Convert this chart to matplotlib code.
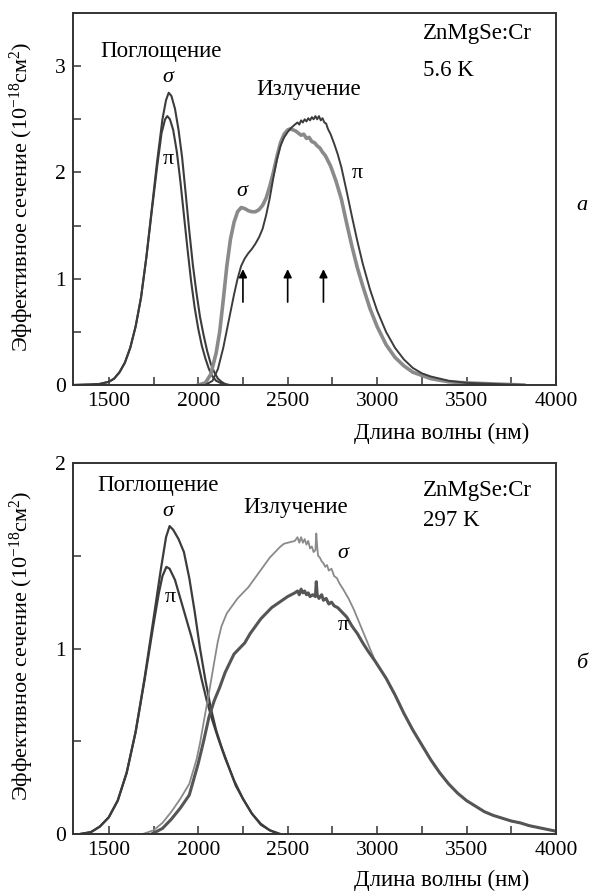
import numpy as np
import matplotlib
matplotlib.use("Agg")
import matplotlib.pyplot as plt
from matplotlib.ticker import MultipleLocator

plt.rcParams['font.family'] = ['Liberation Serif', 'DejaVu Serif']
plt.rcParams['mathtext.fontset'] = 'custom'
plt.rcParams['mathtext.rm'] = 'Liberation Serif'
plt.rcParams['mathtext.it'] = 'Liberation Serif:italic'

# ── panel a : 5.6 K ───────────────────────────────────────────
a_abs_sig_x = [1300, 1400, 1450, 1500, 1530, 1560, 1590, 1620, 1650, 1680, 1710, 1740, 1770,
               1800, 1820, 1835, 1850, 1870, 1890, 1910, 1930, 1950, 1970, 1990, 2010, 2030,
               2050, 2070, 2090, 2110, 2130, 2150, 2175]
a_abs_sig_y = [0.0, 0.005, 0.01, 0.03, 0.06, 0.12, 0.21, 0.35, 0.55, 0.82, 1.2, 1.65, 2.1,
               2.5, 2.68, 2.75, 2.72, 2.6, 2.4, 2.14, 1.8, 1.45, 1.13, 0.87, 0.64, 0.47,
               0.32, 0.2, 0.12, 0.06, 0.03, 0.01, 0.0]

a_abs_pi_x = [1300, 1400, 1450, 1500, 1530, 1560, 1590, 1620, 1650, 1680, 1710, 1740, 1770,
              1795, 1815, 1827, 1842, 1860, 1880, 1900, 1920, 1940, 1960, 1980, 2000, 2020,
              2040, 2060, 2080, 2100, 2130, 2160]
a_abs_pi_y = [0.0, 0.005, 0.01, 0.03, 0.06, 0.12, 0.21, 0.35, 0.55, 0.82, 1.2, 1.63, 2.05,
              2.37, 2.5, 2.53, 2.5, 2.4, 2.2, 1.92, 1.6, 1.28, 0.98, 0.73, 0.53, 0.37,
              0.25, 0.15, 0.08, 0.04, 0.015, 0.0]

a_em_sig_x = [2000, 2040, 2070, 2100, 2120, 2140, 2160, 2180, 2200, 2220, 2240, 2260, 2280,
              2300, 2320, 2340, 2360, 2380, 2400, 2420, 2440, 2460, 2480, 2500, 2515, 2530,
              2545, 2560, 2575, 2590, 2605, 2620, 2635, 2650, 2665, 2680, 2695, 2710, 2740,
              2770, 2800, 2830, 2860, 2890, 2920, 2960, 3000, 3050, 3100, 3150, 3200, 3300,
              3400, 3500, 3650, 3820]
a_em_sig_y = [0.0, 0.02, 0.1, 0.3, 0.5, 0.8, 1.12, 1.37, 1.53, 1.63, 1.67, 1.66, 1.64,
              1.63, 1.63, 1.65, 1.69, 1.76, 1.87, 2.0, 2.15, 2.28, 2.36, 2.4, 2.41, 2.4,
              2.39, 2.37, 2.35, 2.36, 2.32, 2.33, 2.29, 2.28, 2.25, 2.23, 2.19, 2.16, 2.06,
              1.92, 1.75, 1.52, 1.3, 1.1, 0.93, 0.72, 0.55, 0.38, 0.26, 0.18, 0.12, 0.06,
              0.03, 0.02, 0.01, 0.0]

a_em_pi_x = [2040, 2080, 2110, 2140, 2170, 2200, 2220, 2240, 2260, 2280, 2300, 2320, 2340,
             2360, 2380, 2400, 2420, 2440, 2460, 2480, 2500, 2520, 2540, 2555, 2565, 2575,
             2585, 2595, 2605, 2615, 2625, 2635, 2645, 2655, 2665, 2675, 2685, 2695, 2705,
             2715, 2725, 2740, 2760, 2780, 2800, 2830, 2860, 2890, 2920, 2960, 3000, 3050,
             3100, 3150, 3200, 3250, 3300, 3400, 3500, 3650, 3820]
a_em_pi_y = [0.0, 0.04, 0.15, 0.35, 0.6, 0.85, 1.0, 1.12, 1.19, 1.24, 1.28, 1.33, 1.39,
             1.47, 1.6, 1.76, 1.95, 2.12, 2.25, 2.33, 2.38, 2.42, 2.45, 2.47, 2.45, 2.49,
             2.47, 2.5, 2.48, 2.51, 2.49, 2.52, 2.5, 2.53, 2.5, 2.53, 2.49, 2.51, 2.47,
             2.46, 2.41, 2.36, 2.27, 2.17, 2.05, 1.82, 1.58, 1.35, 1.14, 0.9, 0.7, 0.5,
             0.35, 0.24, 0.16, 0.11, 0.08, 0.04, 0.02, 0.01, 0.0]

a_arrows_x = [2250, 2500, 2700]

# ── panel б : 297 K ───────────────────────────────────────────
b_abs_sig_x = [1340, 1400, 1450, 1500, 1550, 1600, 1650, 1700, 1750, 1790, 1820, 1840, 1860,
               1890, 1920, 1950, 1980, 2010, 2040, 2070, 2100, 2130, 2160, 2210, 2250, 2300,
               2350, 2400, 2460]
b_abs_sig_y = [0.0, 0.01, 0.04, 0.09, 0.18, 0.33, 0.55, 0.84, 1.16, 1.42, 1.6, 1.66, 1.64,
               1.59, 1.52, 1.38, 1.2, 1.0, 0.83, 0.68, 0.56, 0.47, 0.39, 0.26, 0.19, 0.11,
               0.05, 0.02, 0.0]

b_abs_pi_x = [1340, 1400, 1450, 1500, 1550, 1600, 1650, 1700, 1750, 1780, 1800, 1822, 1840,
              1870, 1900, 1930, 1960, 1990, 2020, 2050, 2080, 2110, 2150, 2200, 2250, 2300,
              2350, 2400, 2450]
b_abs_pi_y = [0.0, 0.01, 0.04, 0.09, 0.18, 0.33, 0.55, 0.83, 1.13, 1.3, 1.39, 1.44, 1.43,
              1.37, 1.27, 1.17, 1.07, 0.96, 0.83, 0.71, 0.61, 0.52, 0.41, 0.29, 0.19, 0.11,
              0.055, 0.02, 0.0]

b_em_sig_x = [1690, 1750, 1800, 1850, 1900, 1950, 1990, 2010, 2030, 2060, 2090, 2110, 2130,
              2160, 2190, 2220, 2250, 2280, 2310, 2340, 2370, 2400, 2430, 2460, 2480, 2500,
              2520, 2540, 2555, 2565, 2575, 2585, 2595, 2605, 2615, 2625, 2635, 2645, 2655,
              2660, 2665, 2670, 2680, 2690, 2700, 2710, 2720, 2730, 2745, 2760, 2775, 2790,
              2810, 2840, 2870, 2900, 2930, 2960]
b_em_sig_y = [0.0, 0.02, 0.06, 0.12, 0.19, 0.27, 0.4, 0.49, 0.6, 0.76, 0.93, 1.04, 1.12,
              1.19, 1.23, 1.27, 1.3, 1.33, 1.37, 1.41, 1.45, 1.49, 1.52, 1.55, 1.565, 1.57,
              1.575, 1.58, 1.6, 1.57, 1.6, 1.57, 1.59, 1.56, 1.58, 1.54, 1.55, 1.52, 1.53,
              1.62, 1.55, 1.5, 1.49, 1.47, 1.46, 1.44, 1.45, 1.42, 1.43, 1.39, 1.38, 1.35,
              1.32, 1.27, 1.21, 1.14, 1.07, 1.0]

b_em_pi_x = [1740, 1800, 1850, 1900, 1950, 2000, 2030, 2060, 2090, 2120, 2150, 2180, 2200,
             2230, 2260, 2290, 2320, 2350, 2380, 2410, 2440, 2470, 2500, 2520, 2540, 2555,
             2565, 2575, 2585, 2595, 2605, 2615, 2625, 2640, 2655, 2660, 2665, 2675, 2690,
             2700, 2715, 2730, 2745, 2760, 2780, 2800, 2830, 2860, 2890, 2920, 2950]
b_em_pi_y = [0.0, 0.03, 0.08, 0.14, 0.21, 0.38, 0.5, 0.63, 0.72, 0.79, 0.87, 0.93, 0.97,
             1.0, 1.03, 1.08, 1.12, 1.16, 1.19, 1.22, 1.24, 1.26, 1.28, 1.29, 1.3, 1.31,
             1.29, 1.32, 1.3, 1.31, 1.29, 1.3, 1.28, 1.29, 1.28, 1.36, 1.29, 1.27, 1.29,
             1.26, 1.27, 1.24, 1.25, 1.23, 1.22, 1.2, 1.17, 1.12, 1.08, 1.03, 0.985]

# common long-wave tail (both polarisations merge)
b_tail_x = [2990, 3050, 3100, 3150, 3200, 3250, 3300, 3350, 3400, 3450, 3500, 3550, 3600,
            3650, 3700, 3750, 3800, 3850, 3900, 3950, 4000]
b_tail_y = [0.93, 0.84, 0.75, 0.65, 0.56, 0.48, 0.4, 0.33, 0.27, 0.22, 0.18, 0.15, 0.12,
            0.1, 0.085, 0.07, 0.06, 0.045, 0.035, 0.025, 0.015]

DARK = '#3c3c3c'
GRAY = '#8a8a8a'
FS = 15.5     # tick labels
FA = 16.5     # annotations

W, H = 590, 893
fig = plt.figure(figsize=(W / 100, H / 100), dpi=100)


def px(x, y):
    return x / W, 1 - y / H


def setup(ax, ymax, ymajor):
    ax.set_xlim(1300, 4000)
    ax.set_ylim(0, ymax)
    ax.xaxis.set_major_locator(MultipleLocator(500))
    ax.xaxis.set_minor_locator(MultipleLocator(250))
    ax.yaxis.set_major_locator(MultipleLocator(ymajor))
    ax.yaxis.set_minor_locator(MultipleLocator(0.5))
    ax.tick_params(which='both', direction='in', length=6, width=1.1, color='#333333',
                   top=False, right=False, labelsize=FS, pad=5)
    ax.set_xticks([1500, 2000, 2500, 3000, 3500, 4000])
    for s in ax.spines.values():
        s.set_linewidth(1.4)
        s.set_color('#333333')


# top panel
axa = fig.add_axes([73 / W, 1 - 385 / H, 483 / W, 372 / H])
setup(axa, 3.5, 1)
axa.set_yticks([0, 1, 2, 3])
axa.plot(a_abs_sig_x, a_abs_sig_y, color=DARK, lw=1.5)
axa.plot(a_abs_pi_x, a_abs_pi_y, color=DARK, lw=1.5)
axa.plot(a_em_sig_x, a_em_sig_y, color=GRAY, lw=2.6, solid_joinstyle='round')
axa.plot(a_em_pi_x, a_em_pi_y, color=DARK, lw=1.4)
for x in a_arrows_x:
    axa.annotate('', xy=(x, 1.09), xytext=(x, 0.78),
                 arrowprops=dict(arrowstyle='-|>', color='black', lw=1.2,
                                 mutation_scale=12, shrinkA=0, shrinkB=0))

# bottom panel
axb = fig.add_axes([73 / W, 1 - 834 / H, 483 / W, 371 / H])
setup(axb, 2, 1)
axb.set_yticks([0, 1, 2])
axb.plot(b_abs_sig_x, b_abs_sig_y, color=DARK, lw=1.6)
axb.plot(b_abs_pi_x, b_abs_pi_y, color=DARK, lw=1.6)
axb.plot(b_em_sig_x + b_tail_x, b_em_sig_y + b_tail_y, color=GRAY, lw=1.3)
axb.plot(b_em_pi_x + b_tail_x, b_em_pi_y + b_tail_y, color='#555555', lw=2.2)

ylab = 'Эффективное сечение (10$^{-18}$см$^{2}$)'
for yc in (197, 646):
    fig.text(*px(22, yc), ylab, rotation=90, ha='center', va='center', fontsize=16)
for yc in (433, 880):
    fig.text(*px(442, yc), 'Длина волны (нм)', ha='center', va='center', fontsize=FA)

# annotations, panel a
fig.text(*px(161, 52), 'Поглощение', ha='center', va='center', fontsize=FA)
fig.text(*px(309, 90), 'Излучение', ha='center', va='center', fontsize=FA)
fig.text(*px(423, 34), 'ZnMgSe:Cr', ha='left', va='center', fontsize=FA)
fig.text(*px(423, 70), '5.6 K', ha='left', va='center', fontsize=FA)
fig.text(*px(168, 78), 'σ', ha='center', va='center', fontsize=16, style='italic')
fig.text(*px(168, 160), 'π', ha='center', va='center', fontsize=16)
fig.text(*px(242, 192), 'σ', ha='center', va='center', fontsize=16, style='italic')
fig.text(*px(357, 174), 'π', ha='center', va='center', fontsize=16)
fig.text(*px(582, 206), 'a', ha='center', va='center', fontsize=16, style='italic')

# annotations, panel б
fig.text(*px(158, 485), 'Поглощение', ha='center', va='center', fontsize=FA)
fig.text(*px(296, 508), 'Излучение', ha='center', va='center', fontsize=FA)
fig.text(*px(423, 490), 'ZnMgSe:Cr', ha='left', va='center', fontsize=FA)
fig.text(*px(423, 520), '297 K', ha='left', va='center', fontsize=FA)
fig.text(*px(168, 512), 'σ', ha='center', va='center', fontsize=16, style='italic')
fig.text(*px(170, 598), 'π', ha='center', va='center', fontsize=16)
fig.text(*px(343, 553), 'σ', ha='center', va='center', fontsize=16, style='italic')
fig.text(*px(343, 625), 'π', ha='center', va='center', fontsize=16)
fig.text(*px(582, 663), 'б', ha='center', va='center', fontsize=16, style='italic')

fig.savefig('out.png', dpi=100)
